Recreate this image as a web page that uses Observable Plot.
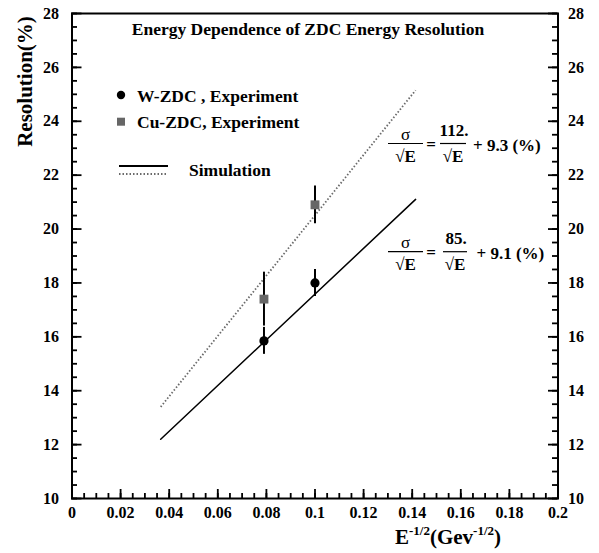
<!DOCTYPE html>
<html><head><meta charset="utf-8">
<script src="https://cdn.jsdelivr.net/npm/d3@7"></script>
<script src="https://cdn.jsdelivr.net/npm/@observablehq/plot@0.6"></script>
<style>
body{margin:0;background:#fff}
#chart{width:599px;height:553px}
#chart svg text, #chart svg tspan{font-family:"Liberation Serif","Tinos","Times New Roman","DejaVu Serif",serif !important;}
</style>
</head><body><div id="chart"></div>
<script>
// ---- data ----
const wX = [0.079, 0.1];
const wY = [15.85, 18.0];
const wErr = [0.5, 0.5];
const cuX = [0.079, 0.1];
const cuY = [17.4, 20.9];
const cuErr = [1.0, 0.7];
const simX = [0.0365, 0.1414];
const simW = [12.2, 21.1];
const simCu = [13.4, 25.15];
const xTicks = [0, 0.02, 0.04, 0.06, 0.08, 0.1, 0.12, 0.14, 0.16, 0.18, 0.2];
const xTickLabels = ["0", "0.02", "0.04", "0.06", "0.08", "0.1", "0.12", "0.14", "0.16", "0.18", "0.2"];
const yTicks = [10, 12, 14, 16, 18, 20, 22, 24, 26, 28];
const yTickLabels = ["10", "12", "14", "16", "18", "20", "22", "24", "26", "28"];
const xMinor = d3.range(0, 0.2001, 0.005);
const yMinor = d3.range(10, 28.001, 0.5);

const wData = wX.map((x, i) => ({x, y: wY[i], lo: wY[i] - wErr[i], hi: wY[i] + wErr[i]}));
const cuData = cuX.map((x, i) => ({x, y: cuY[i], lo: cuY[i] - cuErr[i], hi: cuY[i] + cuErr[i]}));
const simWData = simX.map((x, i) => ({x, y: simW[i]}));
const simCuData = simX.map((x, i) => ({x, y: simCu[i]}));

const font = "Liberation Serif, Tinos, Times New Roman, DejaVu Serif, serif";
const xLab = new Map(xTicks.map((t, i) => [t, xTickLabels[i]]));
const yLab = new Map(yTicks.map((t, i) => [t, yTickLabels[i]]));

const W = 599, H = 553, mL = 71.5, mR = 41.5, mT = 13, mB = 55;
const iw = W - mL - mR, ih = H - mT - mB;

const plot = Plot.plot({
  width: W, height: H,
  marginLeft: mL, marginRight: mR, marginTop: mT, marginBottom: mB,
  style: {fontFamily: font, fontWeight: "bold", fontSize: "16px", background: "white", color: "black"},
  x: {domain: [0, 0.2], label: null},
  y: {domain: [10, 28], label: null},
  marks: [
    // inward ticks
    Plot.tickX(xMinor, {x: d => d, insetTop: ih - 5, stroke: "black", strokeWidth: 1.8}),
    Plot.tickX(xTicks, {x: d => d, insetTop: ih - 9, stroke: "black", strokeWidth: 1.8}),
    Plot.tickY(yMinor, {y: d => d, insetRight: iw - 5.5, stroke: "black", strokeWidth: 1.8}),
    Plot.tickY(yTicks, {y: d => d, insetRight: iw - 10, stroke: "black", strokeWidth: 1.8}),
    Plot.tickY(yMinor, {y: d => d, insetLeft: iw - 5.5, stroke: "black", strokeWidth: 1.8}),
    Plot.tickY(yTicks, {y: d => d, insetLeft: iw - 9.5, stroke: "black", strokeWidth: 1.8}),
    // tick labels
    Plot.axisX(xTicks, {tickSize: 0, tickPadding: 8, tickFormat: d => xLab.get(d), fontSize: 16, fontWeight: "bold", label: null}),
    Plot.axisY(yTicks, {anchor: "left", tickSize: 0, tickPadding: 13, tickFormat: d => yLab.get(d), fontSize: 16, fontWeight: "bold", label: null}),
    Plot.axisY(yTicks, {anchor: "right", tickSize: 0, tickPadding: 10, tickFormat: d => yLab.get(d), fontSize: 16, fontWeight: "bold", label: null}),
    // simulation lines
    Plot.line(simCuData, {x: "x", y: "y", stroke: "#6a6a6a", strokeWidth: 1.8, strokeDasharray: "1.5,2", strokeLinecap: "butt"}),
    Plot.line(simWData, {x: "x", y: "y", stroke: "black", strokeWidth: 1.5}),
    // experiment
    Plot.ruleX(cuData, {x: "x", y1: "lo", y2: "hi", stroke: "black", strokeWidth: 2}),
    Plot.ruleX(wData, {x: "x", y1: "lo", y2: "hi", stroke: "black", strokeWidth: 2}),
    Plot.dot(cuData, {x: "x", y: "y", symbol: "square", r: 5, fill: "#666", stroke: "none"}),
    Plot.dot(wData, {x: "x", y: "y", r: 4.6, fill: "black", stroke: "none"}),
    Plot.frame({strokeWidth: 2})
  ]
});

document.getElementById("chart").appendChild(plot);
const svg = d3.select(plot);
const g = svg.append("g").attr("font-family", font).attr("font-weight", "bold").attr("fill", "black");

function txt(x, y, s, size, anchor = "start", extra = {}) {
  const t = g.append("text").attr("x", x).attr("y", y).attr("font-size", size).attr("text-anchor", anchor).text(s);
  for (const k in extra) t.attr(k, extra[k]);
  return t;
}

// title
txt(308, 35, "Energy Dependence of ZDC Energy Resolution", 17.5, "middle");

// legend
g.append("circle").attr("cx", 121).attr("cy", 95).attr("r", 4.2).attr("fill", "black");
txt(137, 101.5, "W-ZDC , Experiment", 17.5);
g.append("rect").attr("x", 117).attr("y", 117.7).attr("width", 8).attr("height", 8).attr("fill", "#666");
txt(137, 128, "Cu-ZDC, Experiment", 17.5);
g.append("line").attr("x1", 119).attr("x2", 168).attr("y1", 166).attr("y2", 166).attr("stroke", "black").attr("stroke-width", 1.8);
g.append("line").attr("x1", 119).attr("x2", 168).attr("y1", 174).attr("y2", 174).attr("stroke", "#6a6a6a").attr("stroke-width", 1.8).attr("stroke-dasharray", "1.5,2");
txt(189, 175.5, "Simulation", 17.5);

// axis titles
txt(0, 0, "Resolution(%)", 21, "middle", {transform: "translate(32,81.5) rotate(-90)"});
const xt = g.append("text").attr("x", 448).attr("y", 544).attr("font-size", 21);
xt.append("tspan").text("E");
xt.append("tspan").attr("dy", -9).attr("font-size", 13).text("-1/2");
xt.append("tspan").attr("dy", 9).text("(Gev");
xt.append("tspan").attr("dy", -9).attr("font-size", 13).text("-1/2");
xt.append("tspan").attr("dy", 9).text(")");

// equations
function equation(bar, num, numCx, bar2x1, bar2x2, rest, restX) {
  const fs = 17;
  g.append("line").attr("x1", 388).attr("x2", 423).attr("y1", bar).attr("y2", bar).attr("stroke", "black").attr("stroke-width", 1.2);
  txt(405.5, bar - 3.5, "σ", fs, "middle", {"font-weight": "normal"});
  txt(405.5, bar + 18.5, "√E", fs, "middle");
  txt(431, bar + 6, "=", fs, "middle");
  g.append("line").attr("x1", bar2x1).attr("x2", bar2x2).attr("y1", bar).attr("y2", bar).attr("stroke", "black").attr("stroke-width", 1.2);
  txt(numCx, bar - 8, num, fs, "middle");
  txt((bar2x1 + bar2x2) / 2, bar + 18.5, "√E", fs, "middle");
  txt(restX, bar + 7.5, rest, fs, "start");
}
equation(143.5, "112.", 454, 440, 466, "+ 9.3 (%)", 473);
equation(251.7, "85.", 456, 443, 467, "+ 9.1 (%)", 476.5);
</script>
</body></html>
